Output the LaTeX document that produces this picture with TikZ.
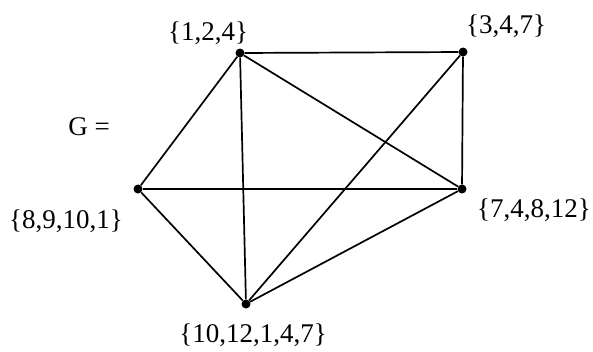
\documentclass[tikz,border=0pt]{standalone}
\usepackage{fontspec}
\setmainfont{Liberation Serif}
\usetikzlibrary{positioning}

\begin{document}
\begin{tikzpicture}[x=1pt,y=-1pt,
  vertex/.style={circle,fill=black,inner sep=0pt,minimum size=9pt},
  setlabel/.style={font=\fontsize{27}{32}\selectfont,inner sep=0pt},
  edge/.style={line width=1.7pt}]
  \useasboundingbox (0,0) rectangle (593,351);
  % vertices
  \node[vertex] (a) at (240,53)  {};
  \node[vertex] (b) at (463,52)  {};
  \node[vertex] (c) at (462,189) {};
  \node[vertex] (d) at (138,189) {};
  \node[vertex] (e) at (246,304) {};
  % labels of the vertices
  \node[setlabel] (la) at (208,33)  {\{1,2,4\}};
  \node[setlabel] (lb) at (506,26)  {\{3,4,7\}};
  \node[setlabel] (lc) at (534,210) {\{7,4,8,12\}};
  \node[setlabel] (ld) at (66,221)  {\{8,9,10,1\}};
  \node[setlabel] (le) at (253,335) {\{10,12,1,4,7\}};
  \node[setlabel] (g)  at (89,127)  {G =};
  % edges
  \foreach \u/\v in {a/b,b/c,a/d,a/c,a/e,d/c,d/e,e/c,e/b}
    \draw[edge] (\u) -- (\v);
\end{tikzpicture}
\end{document}
